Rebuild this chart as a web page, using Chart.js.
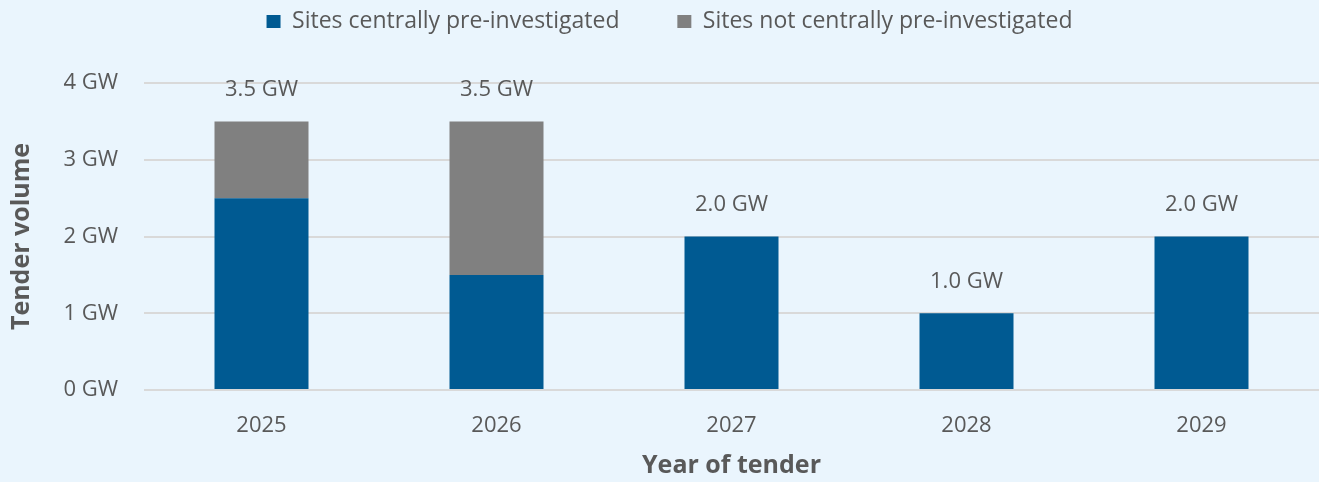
<!DOCTYPE html>
<html>
<head>
<meta charset="utf-8">
<script src="https://cdn.jsdelivr.net/npm/chart.js@4/dist/chart.umd.min.js"></script>
<style>
  html, body { margin: 0; padding: 0; background: #EAF5FD; }
  #wrap { width: 1319px; height: 482px; }
</style>
</head>
<body>
<div id="wrap"><canvas id="tender-chart"></canvas></div>
<script>
const years = ['2025', '2026', '2027', '2028', '2029'];
const centralSites = [2.5, 1.5, 2.0, 1.0, 2.0];
const otherSites = [1.0, 2.0, 0, 0, 0];
const yTicks = [0, 1, 2, 3, 4];

const TEXT = '#595959';
const FONT = "'Open Sans', 'Noto Sans', sans-serif";

// totals on top of each stack
const stackTotals = {
    id: 'stackTotals',
    afterDatasetsDraw(chart) {
        const ctx = chart.ctx;
        const y = chart.scales.y;
        const meta = chart.getDatasetMeta(0);
        ctx.save();
        ctx.font = '22px ' + FONT;
        ctx.fillStyle = TEXT;
        ctx.textAlign = 'center';
        ctx.textBaseline = 'middle';
        years.forEach((yr, i) => {
            const total = centralSites[i] + otherSites[i];
            const x = meta.data[i].x;
            ctx.fillText(total.toFixed(1) + ' GW', x, y.getPixelForValue(total) - 32);
        });
        ctx.restore();
    }
};

// make the legend taller so the plot starts lower
const legendHeight = {
    id: 'legendHeight',
    beforeInit(chart) {
        const fit = chart.legend.fit;
        chart.legend.fit = function () {
            fit.bind(chart.legend)();
            this.height = 83;
        };
    }
};

const data = {
    labels: years,
    datasets: [
        {
            label: 'Sites centrally pre-investigated',
            data: centralSites,
            backgroundColor: '#005A92',
            borderWidth: 0
        },
        {
            label: 'Sites not centrally pre-investigated',
            data: otherSites,
            backgroundColor: '#808080',
            borderWidth: 0
        }
    ]
};

const config = {
    type: 'bar',
    data: data,
    options: {
        responsive: true,
        maintainAspectRatio: false,
        animation: false,
        layout: { padding: { left: 20, right: 0, top: 0, bottom: 0 } },
        datasets: {
            bar: { categoryPercentage: 1, barPercentage: 0.4 }
        },
        plugins: {
            tooltip: { enabled: false },
            legend: {
                position: 'top',
                labels: {
                    color: TEXT,
                    font: { family: FONT, size: 23 },
                    boxWidth: 14,
                    boxHeight: 13,
                    padding: 10,
                    generateLabels(chart) {
                        const items = Chart.defaults.plugins.legend.labels.generateLabels(chart);
                        items[0].text = items[0].text + '        ';
                        return items;
                    }
                }
            }
        },
        scales: {
            x: {
                stacked: true,
                grid: { display: false, drawTicks: false },
                border: { display: false },
                ticks: {
                    color: TEXT,
                    font: { family: FONT, size: 22 },
                    padding: 23
                },
                title: {
                    display: true,
                    text: 'Year of tender',
                    color: TEXT,
                    font: { family: FONT, size: 25, weight: 'bold' },
                    padding: { top: 0, bottom: 1 }
                },
                afterFit(scale) { scale.height = 92; }
            },
            y: {
                stacked: true,
                min: 0,
                max: 4,
                grid: { color: '#D9D9D9', lineWidth: 2, drawTicks: false },
                border: { display: false },
                ticks: {
                    stepSize: 1,
                    color: TEXT,
                    font: { family: FONT, size: 22 },
                    padding: 26,
                    callback: (v) => yTicks.includes(v) ? v + ' GW' : ''
                },
                title: {
                    display: true,
                    text: 'Tender volume',
                    color: TEXT,
                    font: { family: FONT, size: 25, weight: 'bold' },
                    padding: { top: -13, bottom: 0 }
                },
                afterFit(scale) { scale.width = 124; }
            }
        }
    },
    plugins: [legendHeight, stackTotals]
};

new Chart(document.getElementById('tender-chart'), config);
</script>
</body>
</html>
